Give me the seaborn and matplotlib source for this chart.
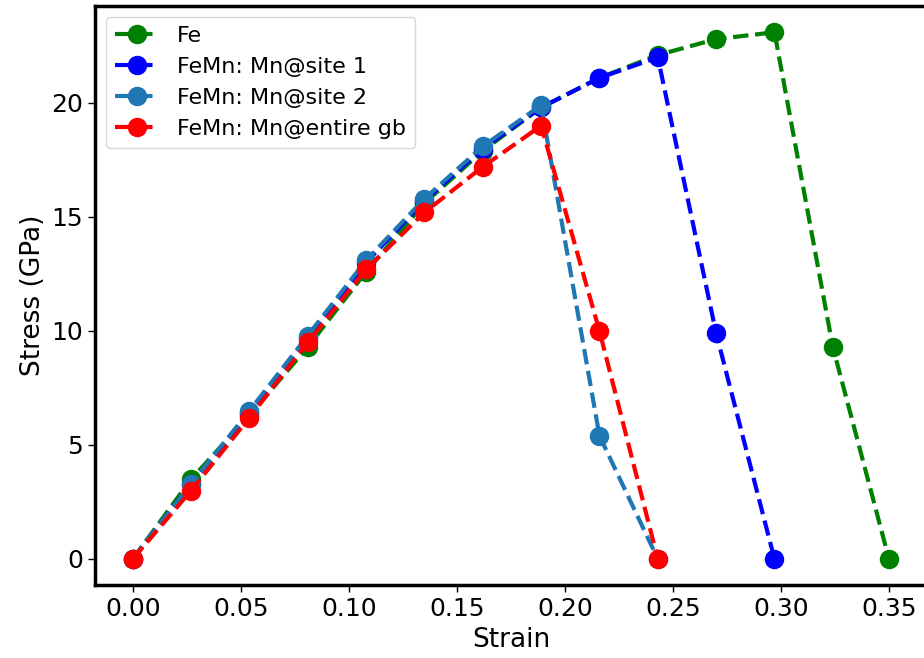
import matplotlib
matplotlib.use("Agg")
import matplotlib.pyplot as plt
import seaborn as sns
import pandas as pd

sns.set_style("ticks")
plt.rcParams['font.family'] = ['DejaVu Sans']
plt.rcParams['text.color'] = 'black'
plt.rcParams['axes.labelcolor'] = 'black'
plt.rcParams['xtick.color'] = 'black'
plt.rcParams['ytick.color'] = 'black'

strain = [0.0, 0.027, 0.054, 0.081, 0.108, 0.135, 0.162, 0.189, 0.216, 0.243, 0.270, 0.297, 0.324, 0.350]

fe = [0.0, 3.5, 6.3, 9.3, 12.6, 15.6, 17.9, 19.8, 21.1, 22.1, 22.8, 23.1, 9.3, 0.0]
site1 = [0.0, 3.3, 6.4, 9.7, 13.0, 15.7, 18.0, 19.8, 21.1, 22.0, 9.9, 0.0]
site2 = [0.0, 3.3, 6.5, 9.8, 13.1, 15.8, 18.1, 19.9, 5.4, 0.0]
entire = [0.0, 3.0, 6.2, 9.5, 12.7, 15.2, 17.2, 19.0, 10.0, 0.0]

labels = ["Fe", "FeMn: Mn@site 1", "FeMn: Mn@site 2", "FeMn: Mn@entire gb"]
colors = ["green", "blue", "#1f77b4", "red"]
series = [fe, site1, site2, entire]

fig = plt.figure(figsize=(9.24, 6.58), dpi=100)
ax = fig.add_axes([0.1028, 0.1105, 0.9002, 0.8805])

for lab, col, vals in zip(labels, colors, series):
    df = pd.DataFrame({"Strain": strain[:len(vals)], "Stress": vals})
    sns.lineplot(data=df, x="Strain", y="Stress", ax=ax, color=col, label=lab,
                 marker="o", markersize=13, markeredgecolor=col, markeredgewidth=1,
                 linewidth=3, linestyle="--")

ax.set_xlabel("Strain", fontsize=19)
ax.set_ylabel("Stress (GPa)", fontsize=19)
ax.set_xticks([0.0, 0.05, 0.10, 0.15, 0.20, 0.25, 0.30, 0.35])
ax.set_xticklabels(["0.00", "0.05", "0.10", "0.15", "0.20", "0.25", "0.30", "0.35"])
ax.set_yticks([0, 5, 10, 15, 20])
ax.tick_params(labelsize=18, length=5, width=1)
for s in ax.spines.values():
    s.set_linewidth(2.5)
    s.set_color("black")

ax.legend(loc="upper left", fontsize=16, frameon=True)

fig.savefig("out.png", dpi=100)
